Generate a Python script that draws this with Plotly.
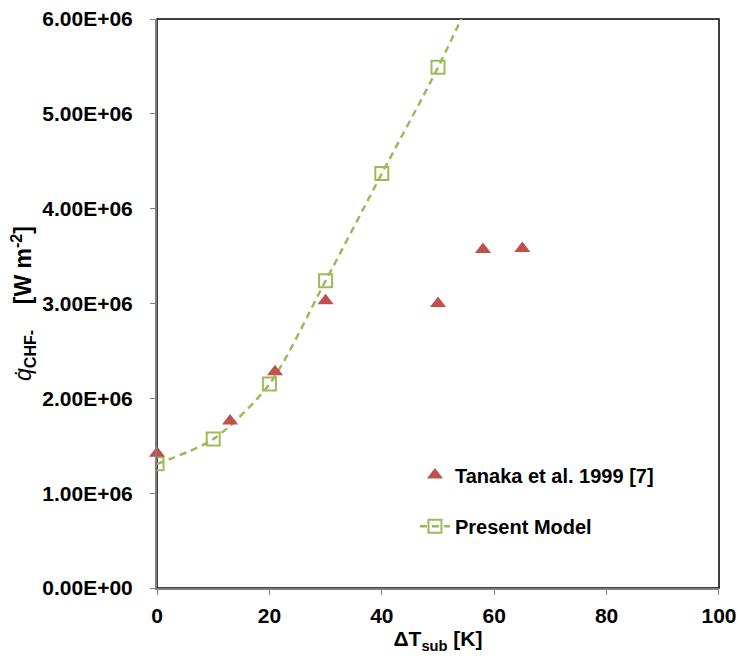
import plotly.graph_objects as go

# Data
tanaka_dT = [0, 13, 21, 30, 50, 58, 65]
tanaka_q = [1.42e6, 1.76e6, 2.28e6, 3.03e6, 3.00e6, 3.57e6, 3.58e6]

model_dT = [0, 10, 20, 30, 40, 50, 60]
model_q = [1.31e6, 1.57e6, 2.15e6, 3.24e6, 4.37e6, 5.49e6, 6.75e6]

x_ticks = [0, 20, 40, 60, 80, 100]
y_ticks = [0, 1e6, 2e6, 3e6, 4e6, 5e6, 6e6]
y_tick_labels = ["0.00E+00", "1.00E+06", "2.00E+06", "3.00E+06",
                 "4.00E+06", "5.00E+06", "6.00E+06"]

RED = "#C0504D"
GREEN = "#9BBB59"
FONT = "Liberation Sans"
FS = 21

fig = go.Figure()

fig.add_trace(go.Scatter(
    x=model_dT, y=model_q, mode="lines+markers", name="<b>Present Model</b>",
    line=dict(color=GREEN, width=2.5, dash="7px,5px", shape="spline", smoothing=0.8),
    marker=dict(symbol="square-open", size=13, color=GREEN, line=dict(width=2, color=GREEN)),
    legend="legend2", cliponaxis=True,
))

fig.add_trace(go.Scatter(
    x=tanaka_dT, y=tanaka_q, mode="markers", name="<b>Tanaka et al. 1999 [7]</b>",
    marker=dict(symbol="triangle-up", size=14, color=RED),
    legend="legend", cliponaxis=False,
))

# Plot-area border (black), axes drawn in grey above it
fig.add_shape(type="rect", xref="paper", yref="paper", x0=0, y0=0, x1=1, y1=1,
              line=dict(color="black", width=1.5), layer="below")

fig.update_layout(
    width=738, height=658,
    margin=dict(l=157, r=19, t=19, b=70),
    paper_bgcolor="white", plot_bgcolor="white",
    font=dict(family=FONT, size=FS, color="black"),
    showlegend=True,
    legend=dict(x=0.459, y=0.233, xanchor="left", yanchor="top",
                bgcolor="rgba(0,0,0,0)", font=dict(size=FS - 1, family=FONT)),
    legend2=dict(x=0.459, y=0.143, xanchor="left", yanchor="top",
                 bgcolor="rgba(0,0,0,0)", font=dict(size=FS - 1, family=FONT)),
)

fig.update_xaxes(
    range=[0, 100.001], tickvals=x_ticks, ticktext=[f"<b>{v}</b>" for v in x_ticks],
    showgrid=False, zeroline=False, automargin=False,
    showline=True, linecolor="#808080", linewidth=2,
    ticks="outside", ticklen=5, tickcolor="#808080", tickwidth=1,
    ticklabeloverflow="allow", ticklabelstandoff=3,
    tickfont=dict(size=FS, family=FONT),
    title=dict(text="<b>ΔT<sub>sub</sub> [K]</b>", font=dict(size=FS, family=FONT), standoff=4),
)

fig.update_yaxes(
    range=[0, 6e6], tickvals=y_ticks, ticktext=[f"<b>{t}</b>" for t in y_tick_labels],
    showgrid=False, zeroline=False, automargin=False,
    showline=True, linecolor="#808080", linewidth=2,
    ticks="outside", ticklen=5, tickcolor="#808080", tickwidth=1,
    ticklabelstandoff=13, ticklabeloverflow="allow",
    tickfont=dict(size=FS, family=FONT),
    title=dict(text="<i>q\u0307</i><sub><b>CHF-</b></sub>&nbsp;&nbsp;&nbsp;&nbsp;<b>[W m<sup>-2</sup>]</b>",
               font=dict(size=23, family=FONT), standoff=4),
)

fig.write_html("out.html")
